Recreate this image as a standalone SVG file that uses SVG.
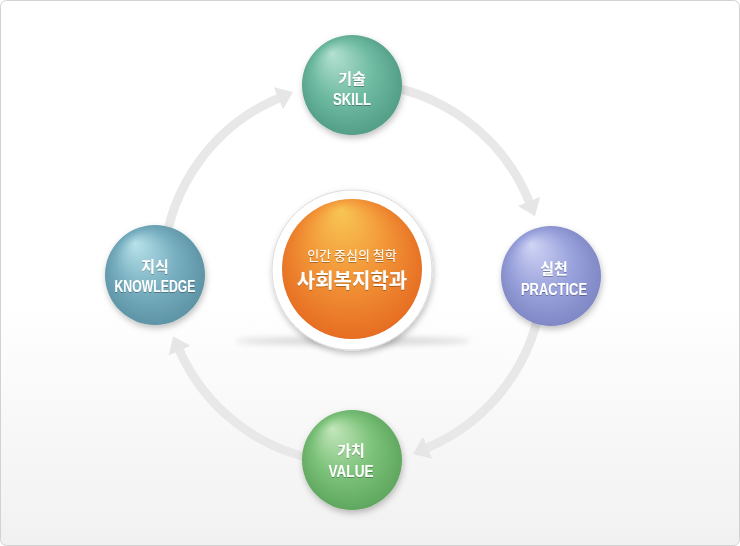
<svg xmlns="http://www.w3.org/2000/svg" width="740" height="546" viewBox="0 0 740 546">
<defs>
<linearGradient id="bg" x1="0" y1="0" x2="0" y2="1">
<stop offset="0" stop-color="#ffffff"/>
<stop offset="0.55" stop-color="#ffffff"/>
<stop offset="1" stop-color="#f1f1f1"/>
</linearGradient>
<radialGradient id="gSkill" cx="50%" cy="50%" r="55%" fx="30%" fy="18%">
<stop offset="0" stop-color="#b4e0d2"/>
<stop offset="0.55" stop-color="#6fbba2"/>
<stop offset="1" stop-color="#509a84"/>
</radialGradient>
<radialGradient id="gKnow" cx="50%" cy="50%" r="55%" fx="30%" fy="18%">
<stop offset="0" stop-color="#b8e2ea"/>
<stop offset="0.55" stop-color="#78afc0"/>
<stop offset="1" stop-color="#5a90a2"/>
</radialGradient>
<radialGradient id="gPrac" cx="50%" cy="50%" r="55%" fx="30%" fy="18%">
<stop offset="0" stop-color="#d0d4f4"/>
<stop offset="0.55" stop-color="#9aa3dc"/>
<stop offset="1" stop-color="#7c84c2"/>
</radialGradient>
<radialGradient id="gVal" cx="50%" cy="50%" r="55%" fx="30%" fy="18%">
<stop offset="0" stop-color="#c4e6bc"/>
<stop offset="0.55" stop-color="#7cc27a"/>
<stop offset="1" stop-color="#5ca35c"/>
</radialGradient>
<radialGradient id="gOr" cx="50%" cy="50%" r="58%" fx="42%" fy="8%">
<stop offset="0" stop-color="#f8c653"/>
<stop offset="0.45" stop-color="#f3993a"/>
<stop offset="1" stop-color="#e4661e"/>
</radialGradient>
<filter id="sh" x="-30%" y="-30%" width="160%" height="160%">
<feDropShadow dx="1" dy="3" stdDeviation="3" flood-color="#000" flood-opacity="0.25"/>
</filter>
<filter id="tsh" x="-10%" y="-30%" width="120%" height="160%">
<feDropShadow dx="0" dy="1" stdDeviation="0.6" flood-color="#000" flood-opacity="0.3"/>
</filter>
<filter id="blur" x="-20%" y="-300%" width="140%" height="700%">
<feGaussianBlur stdDeviation="3"/>
</filter>
<marker id="ah" viewBox="0 0 16 24" refX="0.5" refY="12" markerWidth="16" markerHeight="24" markerUnits="userSpaceOnUse" orient="auto">
<path d="M0,0 L16,12 L0,24 Z" fill="#e6e6e6"/>
</marker>
<style>
.arc{fill:none;stroke:#e8e8e8;stroke-width:9;marker-end:url(#ah)}
.ko{font-family:"Noto Sans CJK KR",sans-serif;font-size:15px;font-weight:bold;fill:#fff;text-anchor:middle}
.en{font-family:"Liberation Sans",Arial,sans-serif;font-size:16px;font-weight:bold;fill:#fff;text-anchor:middle}
</style>
</defs>
<rect x="0.5" y="0.5" width="739" height="545" rx="6" fill="url(#bg)" stroke="#d2d2d2"/>
<g id="connectors">
<path class="arc" d="M369.6,83.7 A190,190 0 0 1 529.2,201.8"/>
<path class="arc" d="M542.3,289.6 A190,190 0 0 1 427.2,447.9"/>
<path class="arc" d="M320.0,460.1 A190,190 0 0 1 179.4,350.3"/>
<path class="arc" d="M163.7,256.4 A190,190 0 0 1 278.8,98.1"/>
</g>
<g id="center">
<ellipse cx="353" cy="341" rx="118" ry="4" fill="#000" opacity="0.15" filter="url(#blur)"/>
<circle cx="352" cy="270" r="80" fill="#fff" stroke="#dcdcdc" filter="url(#sh)"/>
<circle cx="352" cy="269" r="70" fill="url(#gOr)"/>
<text x="352" y="260" font-family="'Noto Sans CJK KR',sans-serif" font-size="13" fill="#fff" text-anchor="middle" filter="url(#tsh)">인간 중심의 철학</text>
<text x="352" y="288" font-family="'Noto Sans CJK KR',sans-serif" font-size="20" font-weight="bold" fill="#fff" text-anchor="middle" filter="url(#tsh)">사회복지학과</text>
</g>
<g id="skill">
<circle cx="352" cy="85" r="50" fill="url(#gSkill)" filter="url(#sh)"/>
<text class="ko" x="352" y="84" filter="url(#tsh)">기술</text>
<text class="en" x="352" y="105" textLength="38" lengthAdjust="spacingAndGlyphs" filter="url(#tsh)">SKILL</text>
</g>
<g id="practice">
<circle cx="551" cy="276" r="50" fill="url(#gPrac)" filter="url(#sh)"/>
<text class="ko" x="554" y="274" filter="url(#tsh)">실천</text>
<text class="en" x="554" y="295" textLength="66" lengthAdjust="spacingAndGlyphs" filter="url(#tsh)">PRACTICE</text>
</g>
<g id="value">
<circle cx="352" cy="460" r="50" fill="url(#gVal)" filter="url(#sh)"/>
<text class="ko" x="351" y="456" filter="url(#tsh)">가치</text>
<text class="en" x="351" y="477" textLength="45" lengthAdjust="spacingAndGlyphs" filter="url(#tsh)">VALUE</text>
</g>
<g id="knowledge">
<circle cx="155" cy="275" r="50" fill="url(#gKnow)" filter="url(#sh)"/>
<text class="ko" x="155" y="272" filter="url(#tsh)">지식</text>
<text class="en" x="155" y="292" textLength="81" lengthAdjust="spacingAndGlyphs" filter="url(#tsh)">KNOWLEDGE</text>
</g>
</svg>
